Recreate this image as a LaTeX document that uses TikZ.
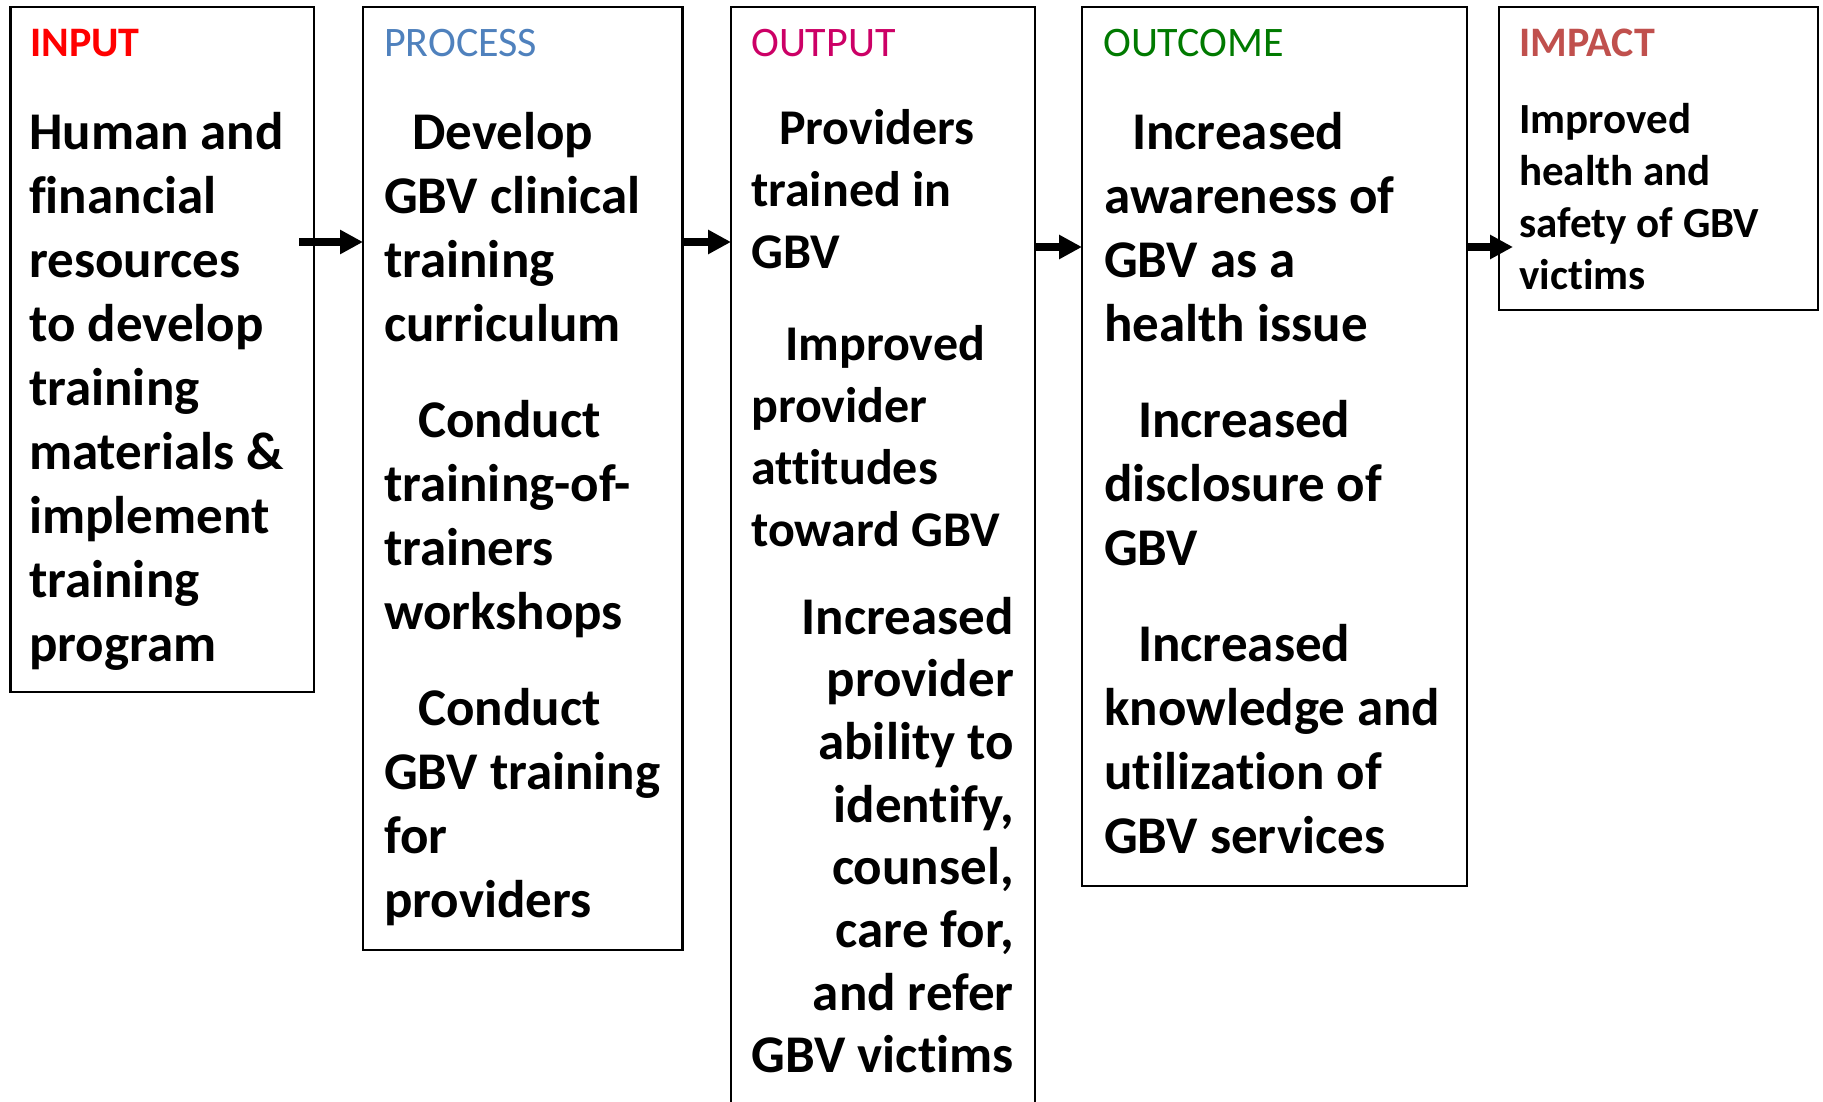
\documentclass[tikz,border=0pt]{standalone}
\usepackage{fontspec}
\setmainfont{Carlito}[Ligatures=CommonOff]
\usetikzlibrary{arrows.meta}
\definecolor{inred}{HTML}{FF0000}
\definecolor{procblue}{HTML}{4F81BD}
\definecolor{outmag}{HTML}{CC0066}
\definecolor{outgreen}{HTML}{007A00}
\definecolor{impred}{HTML}{C0504D}
% a top-aligned block of ragged text whose baseline is its first line
\newcommand{\colblock}[2]{\parbox[t]{#1}{\raggedright #2}}
\newcommand{\colblockr}[2]{\parbox[t]{#1}{\raggedleft #2}}
\newcommand{\ind}{\hspace*{28pt}}
\newcommand{\indb}{\hspace*{34pt}}

\begin{document}
\begin{tikzpicture}[x=1pt,y=-1pt,
  frame/.style={draw=black, line width=2.5pt, inner sep=0pt, outer sep=0pt, anchor=north west},
  heading/.style={anchor=base west, inner sep=0pt, font=\fontsize{42}{50}\selectfont},
  body/.style={anchor=base west, inner sep=0pt, font=\bfseries\fontsize{53}{64}\selectfont},
  outbody/.style={inner sep=0pt, font=\bfseries\fontsize{50}{62}\selectfont},
  outbodyb/.style={inner sep=0pt, font=\bfseries\fontsize{53}{62.7}\selectfont},
  smallbody/.style={anchor=base west, inner sep=0pt, font=\bfseries\fontsize{43}{52}\selectfont},
  flow/.style={line width=8pt, -{Triangle[length=23pt,width=23pt]}}
]
\useasboundingbox (0,0) rectangle (1823,1102);
\clip (0,0) rectangle (1823,1102);
\fill[white] (0,0) rectangle (1823,1102);

% column frames
\node[frame, minimum width=303.5pt, minimum height=685pt] (input)   at (10.5,7) {};
\node[frame, minimum width=319.5pt, minimum height=943pt] (process) at (363,7) {};
\node[frame, minimum width=304pt,   minimum height=1130pt] (output) at (731,7) {};
\node[frame, minimum width=385pt,   minimum height=879pt] (outcome) at (1082,7) {};
\node[frame, minimum width=319pt,   minimum height=303pt] (impact)  at (1499,7) {};

% column headings
\node[heading, text=inred]    (hin)   at (30,57)   {\bfseries INPUT};
\node[heading, text=procblue] (hproc) at (384,57)  {PROCESS};
\node[heading, text=outmag]   (hout)  at (751,57)  {OUTPUT};
\node[heading, text=outgreen] (hoc)   at (1103,57) {OUTCOME};
\node[heading, text=impred]   (himp)  at (1519,57) {\bfseries IMPACT};

% column contents
\node[body] (tin) at (29,150) {\colblock{280pt}{Human and\\ financial\\ resources\\ to develop\\ training\\ materials \&\\ implement\\ training\\ program}};

\node[body] (tproc) at (384,150) {\colblock{300pt}{\ind Develop\\ GBV clinical\\ training\\ curriculum\par\vspace{32pt}
\indb Conduct\\ training-of-\\ trainers\\ workshops\par\vspace{32pt}
\indb Conduct\\ GBV training\\ for\\ providers}};

\node[outbody, anchor=base west] (tout) at (751,145) {\colblock{280pt}{\ind Providers\\ trained in\\ GBV\par\vspace{29.5pt}
\indb Improved\\ provider\\ attitudes\\ toward GBV}};
\node[outbodyb, anchor=base east] (tout2) at (1014,634) {\colblockr{280pt}{Increased\\ provider\\ ability to\\ identify,\\ counsel,\\ care for,\\ and refer\\ GBV victims}};

\node[body] (toc) at (1104,150) {\colblock{360pt}{\ind Increased\\ awareness of\\ GBV as a\\ health issue\par\vspace{32pt}
\indb Increased\\ disclosure of\\ GBV\par\vspace{32pt}
\indb Increased\\ knowledge and\\ utilization of\\ GBV services}};

\node[smallbody] (timp) at (1519,134) {\colblock{290pt}{Improved\\ health and\\ safety of GBV\\ victims}};

% connectors between the columns
\coordinate (a1) at (299,242);
\coordinate (a3) at (1035,247);
\coordinate (a4) at (1513,247);
\draw[flow] (a1) -- (a1 -| process.west);
\draw[flow] (process.east |- a1) -- (output.west |- a1);
\draw[flow] (output.east |- a3) -- (outcome.west |- a3);
\draw[flow] (outcome.east |- a4) -- (a4);
\end{tikzpicture}
\end{document}
